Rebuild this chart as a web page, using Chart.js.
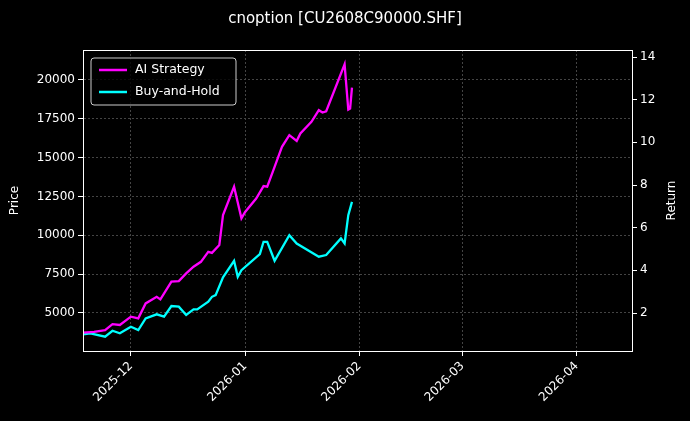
<!DOCTYPE html>
<html><head><meta charset="utf-8">
<script src="https://cdn.jsdelivr.net/npm/chart.js@4"></script>
<style>html,body{margin:0;background:#000}#c{display:block}</style>
</head><body>
<div style="width:690px;height:421px"><canvas id="c"></canvas></div>
<script>
// day offsets from 2025-11-18
const aiDays=[0,3,6,8,10,13,15,17,20,21,24,26,28,30,32,34,35,37,38,41,43,44,47,49,50,52,54,56,58,59,62,64,65,66,71,72,72.5,73];
const aiRet=[1.08,1.12,1.20,1.48,1.44,1.83,1.75,2.45,2.76,2.64,3.47,3.50,3.86,4.17,4.40,4.87,4.82,5.19,6.59,7.92,6.44,6.74,7.37,7.95,7.92,8.85,9.79,10.34,10.07,10.42,10.96,11.51,11.40,11.46,13.66,11.54,11.59,12.57];
const bhDays=[0,2,6,8,10,13,15,17,20,22,24,26,28,30,31,34,35,36,38,41,42,43,48,49,50,52,56,58,64,66,70,71,72,73];
const bhRet=[1.00,1.05,0.89,1.17,1.05,1.36,1.20,1.75,1.94,1.83,2.33,2.30,1.91,2.17,2.17,2.53,2.76,2.84,3.67,4.45,3.70,4.01,4.76,5.34,5.34,4.45,5.65,5.26,4.64,4.72,5.50,5.26,6.59,7.21];
const xTickDays=[13,44,75,103,134];
const xTickLabels=['2025-12','2026-01','2026-02','2026-03','2026-04'];
const priceTicks=[5000,7500,10000,12500,15000,17500,20000];
const returnTicks=[2,4,6,8,10,12,14];
const series=[{label:'AI Strategy',color:'#ff00ff'},{label:'Buy-and-Hold',color:'#00ffff'}];
const toPts=(d,v)=>d.map((x,i)=>({x,y:v[i]}));
const font={family:'DejaVu Sans',size:12};
const frame={id:'frame',afterDraw(c){const a=c.chartArea,g=c.ctx;g.save();g.strokeStyle='#fff';g.lineWidth=1;g.strokeRect(a.left+.5,a.top+.5,a.right-a.left,a.bottom-a.top);
 g.fillStyle='#fff';g.font='12px DejaVu Sans';g.textAlign='center';g.textBaseline='middle';
 g.translate(672,(a.top+a.bottom)/2);g.rotate(-Math.PI/2);g.fillText('Return',0,0);
 g.restore();g.save();
 const x=a.left+8,y=a.top+8,w=145,h=47;g.fillStyle='rgba(0,0,0,0.8)';g.strokeStyle='#ccc';g.beginPath();g.roundRect(x,y,w,h,3);g.fill();g.stroke();
 g.font='12.5px DejaVu Sans';g.textBaseline='middle';
 series.forEach((s,i)=>{const yy=y+12+i*22;g.strokeStyle=s.color;g.lineWidth=2.5;g.beginPath();g.moveTo(x+8,yy);g.lineTo(x+36,yy);g.stroke();g.fillStyle='#fff';g.fillText(s.label,x+44,yy);});
 g.restore();}};
const grid={color:'#444',tickColor:'#fff',tickLength:5};
new Chart(document.getElementById('c'),{
 type:'line',
 data:{datasets:[
  {label:series[0].label,data:toPts(aiDays,aiRet),borderColor:series[0].color,borderWidth:2.3,pointRadius:0,yAxisID:'y1',tension:0},
  {label:series[1].label,data:toPts(bhDays,bhRet),borderColor:series[1].color,borderWidth:2.3,pointRadius:0,yAxisID:'y1',tension:0}
 ]},
 options:{responsive:true,maintainAspectRatio:false,animation:false,
  layout:{padding:{top:0,left:0,right:0,bottom:0}},
  plugins:{legend:{display:false},tooltip:{enabled:false},
   title:{display:true,text:'cnoption [CU2608C90000.SHF]',color:'#fff',font:{family:'DejaVu Sans',size:15,weight:'normal'},padding:{top:10,bottom:22}}},
  scales:{
   x:{type:'linear',min:0,max:149,
    afterBuildTicks:s=>{s.ticks=xTickDays.map(v=>({value:v}));},
    ticks:{color:'#fff',font,maxRotation:45,minRotation:45,autoSkip:false,callback:(v)=>xTickLabels[xTickDays.indexOf(v)]},
    grid,border:{color:'#fff',dash:[2,2]},
    afterFit:s=>{s.height=70;}},
   y:{position:'left',min:2550,max:21930,
    afterBuildTicks:s=>{s.ticks=priceTicks.map(v=>({value:v}));},
    ticks:{color:'#fff',font,callback:v=>String(v)},grid,border:{color:'#fff',dash:[2,2]},
    title:{display:true,text:'Price',color:'#fff',font,padding:{top:8,bottom:4}},afterFit:s=>{s.width=83;}},
   y1:{position:'right',min:0.22,max:14.33,
    afterBuildTicks:s=>{s.ticks=returnTicks.map(v=>({value:v}));},
    ticks:{color:'#fff',font},grid:{display:true,drawOnChartArea:false,tickColor:'#fff',tickLength:5},border:{color:'#fff'},
    afterFit:s=>{s.width=58;}}
  }}
 ,plugins:[frame]});
</script></body></html>
